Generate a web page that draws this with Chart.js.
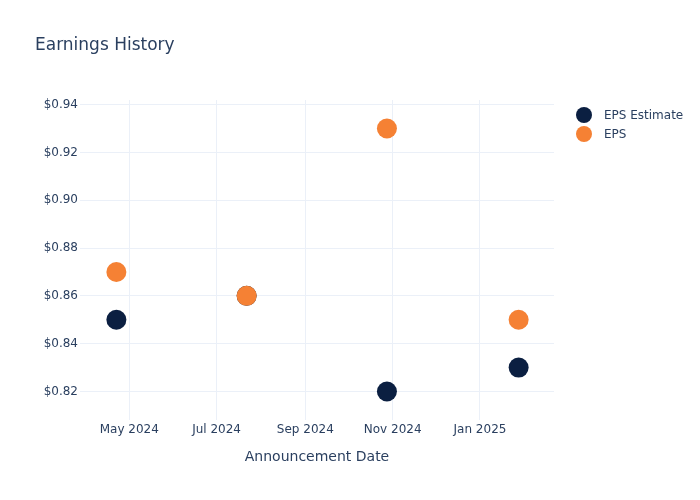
<!DOCTYPE html>
<html>
<head>
<meta charset="utf-8">
<script src="https://cdn.jsdelivr.net/npm/chart.js@4/dist/chart.umd.min.js"></script>
<style>
  html, body { margin: 0; padding: 0; background: #ffffff; }
  #wrap { position: relative; width: 700px; height: 500px; font-family: "DejaVu Sans", Verdana, sans-serif; }
  #title { position: absolute; left: 35px; top: 36px; font-size: 17px; line-height: 17px; color: #2a3f5f; white-space: nowrap; }
  .lg { position: absolute; left: 576px; height: 16px; display: flex; align-items: center; font-size: 12px; color: #2a3f5f; white-space: nowrap; }
  .lg .dot { width: 16px; height: 16px; border-radius: 50%; margin-right: 12px; }
  canvas { position: absolute; left: 0; top: 0; }
</style>
</head>
<body>
<div id="wrap">
  <canvas id="c" width="700" height="500"></canvas>
  <div id="title">Earnings History</div>
  <div id="legend"></div>
</div>
<script>
// ---- data ----
const announcementDates = ["2024-04-22", "2024-07-22", "2024-10-28", "2025-01-28"];
const epsEstimate = [0.85, 0.86, 0.82, 0.83];
const epsActual = [0.87, 0.86, 0.93, 0.85];
const seriesNames = ["EPS Estimate", "EPS"];
const seriesColors = ["#0b1f41", "#f58134"];
const xTickDates = ["2024-05-01", "2024-07-01", "2024-09-01", "2024-11-01", "2025-01-01"];
const xTickLabels = ["May 2024", "Jul 2024", "Sep 2024", "Nov 2024", "Jan 2025"];
const yTickValues = [0.82, 0.84, 0.86, 0.88, 0.90, 0.92, 0.94];
const xRange = ["2024-03-27T14:00:00", "2025-02-21T17:00:00"];
const yRange = [0.8081, 0.9419];
const xTitle = "Announcement Date";

function ts(s) { return new Date(s + (s.length === 10 ? "T00:00:00Z" : "Z")).getTime(); }

const textColor = "#2a3f5f";
const gridColor = "#ebf0f8";
const font = "'DejaVu Sans', Verdana, sans-serif";

const datasets = [
  {
    label: seriesNames[0],
    data: announcementDates.map((d, i) => ({ x: ts(d), y: epsEstimate[i] })),
    backgroundColor: seriesColors[0],
    borderColor: seriesColors[0],
    pointRadius: 10, pointHoverRadius: 10, borderWidth: 0,
    showLine: false, order: 1
  },
  {
    label: seriesNames[1],
    data: announcementDates.map((d, i) => ({ x: ts(d), y: epsActual[i] })),
    backgroundColor: seriesColors[1],
    borderColor: seriesColors[1],
    pointRadius: 10, pointHoverRadius: 10, borderWidth: 0,
    showLine: false, order: 0
  }
];

// HTML legend from the dataset names/colours
const legendEl = document.getElementById("legend");
seriesNames.forEach((name, i) => {
  const item = document.createElement("div");
  item.className = "lg";
  item.style.top = (107 + i * 19) + "px";
  const dot = document.createElement("span");
  dot.className = "dot";
  dot.style.background = seriesColors[i];
  const txt = document.createElement("span");
  txt.textContent = name;
  item.appendChild(dot);
  item.appendChild(txt);
  legendEl.appendChild(item);
});

new Chart(document.getElementById("c"), {
  type: "scatter",
  data: { datasets },
  options: {
    responsive: false,
    animation: false,
    devicePixelRatio: 1,
    layout: { padding: { top: 100, right: 146, left: 0, bottom: 0 } },
    plugins: { legend: { display: false }, title: { display: false }, tooltip: { enabled: false } },
    scales: {
      x: {
        type: "linear",
        min: ts(xRange[0]),
        max: ts(xRange[1]),
        afterBuildTicks: (s) => { s.ticks = xTickDates.map(d => ({ value: ts(d) })); },
        afterFit: (s) => { s.height = 80; },
        ticks: {
          autoSkip: false, maxRotation: 0, padding: 3,
          color: textColor, font: { family: font, size: 12 },
          callback: (v) => { const i = xTickDates.findIndex(d => ts(d) === v); return i >= 0 ? xTickLabels[i] : ""; }
        },
        grid: { color: gridColor, lineWidth: 1, drawTicks: false },
        border: { display: false },
        title: {
          display: true, text: xTitle, color: textColor,
          font: { family: font, size: 14 }, padding: { top: 0, bottom: 34 }
        }
      },
      y: {
        min: yRange[0],
        max: yRange[1],
        afterBuildTicks: (s) => { s.ticks = yTickValues.map(v => ({ value: v })); },
        afterFit: (s) => { s.width = 80; },
        ticks: {
          padding: 2, color: textColor, font: { family: font, size: 12 },
          callback: (v) => "$" + Number(v).toFixed(2)
        },
        grid: { color: gridColor, lineWidth: 1, drawTicks: false },
        border: { display: false }
      }
    }
  }
});
</script>
</body>
</html>
